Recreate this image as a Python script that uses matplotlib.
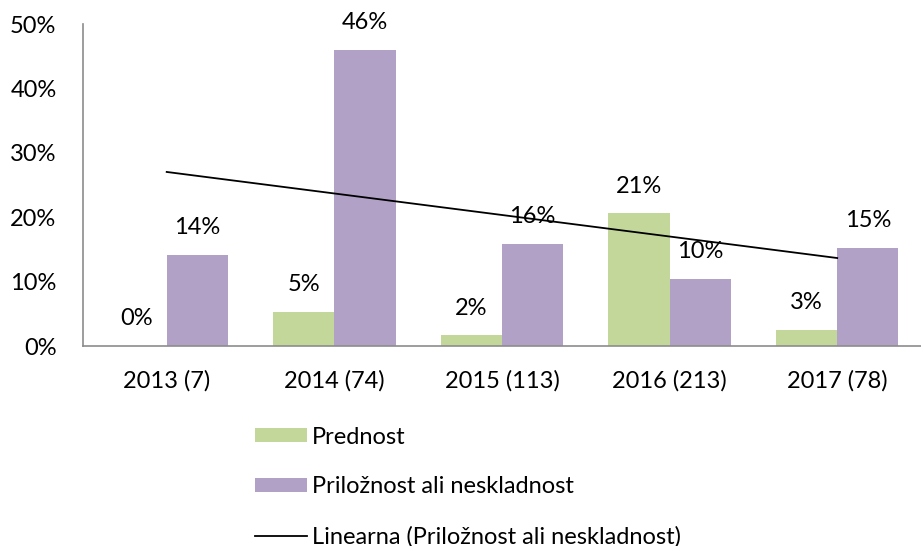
import numpy as np
import matplotlib
matplotlib.use('Agg')
import matplotlib.pyplot as plt
from matplotlib.ticker import PercentFormatter

categories = ['2013 (7)', '2014 (74)', '2015 (113)', '2016 (213)', '2017 (78)']
prednost = [0.0, 5.3, 1.7, 20.6, 2.5]
priloznost = [14.2, 46.0, 15.9, 10.4, 15.3]
prednost_labels = ['0%', '5%', '2%', '21%', '3%']
priloznost_labels = ['14%', '46%', '16%', '10%', '15%']

green = '#c4d79b'
purple = '#b2a1c7'

plt.rcParams['font.family'] = ['Lato', 'DejaVu Sans']
plt.rcParams['font.size'] = 17

fig = plt.figure(figsize=(9.21, 5.46), dpi=100)
ax = fig.add_axes([0.090, 0.366, 0.91, 0.590])

x = np.arange(len(categories))
w = 0.365
b1 = ax.bar(x - w / 2, prednost, w, color=green, label='Prednost')
b2 = ax.bar(x + w / 2, priloznost, w, color=purple, label='Priložnost ali neskladnost')

# linear trend of the second series, like the spreadsheet trendline
k, n = np.polyfit(x, priloznost, 1)
tl, = ax.plot(x, k * x + n, color='black', lw=1.3,
              label='Linearna (Priložnost ali neskladnost)')

for rect, lab in zip(b1, prednost_labels):
    ax.annotate(lab, (rect.get_x() + rect.get_width() / 2, rect.get_height()),
                xytext=(0, 12), textcoords='offset points', ha='center', va='bottom')
for rect, lab in zip(b2, priloznost_labels):
    ax.annotate(lab, (rect.get_x() + rect.get_width() / 2, rect.get_height()),
                xytext=(0, 12), textcoords='offset points', ha='center', va='bottom')

ax.set_xlim(-0.5, 4.5)
ax.set_ylim(0, 50)
ax.set_yticks(range(0, 51, 10))
ax.yaxis.set_major_formatter(PercentFormatter(decimals=0))
ax.set_xticks(x)
ax.set_xticklabels(categories)
ax.tick_params(length=0)
ax.tick_params(axis='x', pad=17)
ax.tick_params(axis='y', pad=19)
for s in ['top', 'right']:
    ax.spines[s].set_visible(False)
for s in ['left', 'bottom']:
    ax.spines[s].set_color('#8c8c8c')
    ax.spines[s].set_linewidth(1.2)

fig.legend(handles=[b1, b2, tl], loc='upper left', bbox_to_anchor=(0.267, 0.236),
           frameon=False, handlelength=2.2, handleheight=0.55, handletextpad=0.2,
           labelspacing=1.22, borderaxespad=0)

fig.savefig('out.png', dpi=100)
